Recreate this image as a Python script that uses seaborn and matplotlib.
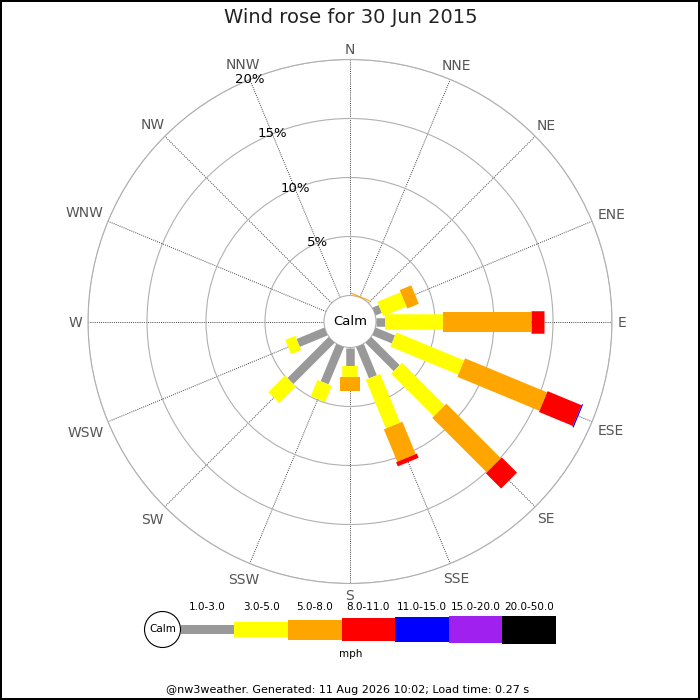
import numpy as np
import matplotlib
matplotlib.use("Agg")
import matplotlib.pyplot as plt
import seaborn as sns
from matplotlib.patches import Circle, Rectangle

# ---------------- data ----------------
directions = ['N', 'NNE', 'NE', 'ENE', 'E', 'ESE', 'SE', 'SSE',
              'S', 'SSW', 'SW', 'WSW', 'W', 'WNW', 'NW', 'NNW']
speed_bins = ['1.0-3.0', '3.0-5.0', '5.0-8.0', '8.0-11.0',
              '11.0-15.0', '15.0-20.0', '20.0-50.0']
bin_colors = ['#999999', '#ffff00', '#ffa500', '#ff0000',
              '#0000ff', '#a020f0', '#000000']

# percentage of time per direction for each speed bin (mph)
pct_1_3   = [0, 0,    0, 0.57, 0.79, 1.78, 3.39, 2.87, 1.57, 3.42, 4.93, 2.55, 0, 0, 0, 0]
pct_3_5   = [0, 0,    0, 2.14, 4.86, 6.22, 5.11, 4.47, 0.90, 1.50, 2.00, 0.92, 0, 0, 0, 0]
pct_5_8   = [0, 0.10, 0, 1.05, 7.45, 7.53, 6.54, 2.97, 1.22, 0,    0,    0,    0, 0, 0, 0]
pct_8_11  = [0, 0,    0, 0,    1.10, 3.11, 1.82, 0.38, 0,    0,    0,    0,    0, 0, 0, 0]
pct_11_15 = [0, 0,    0, 0,    0,    0.10, 0,    0,    0,    0,    0,    0,    0, 0, 0, 0]
pct_15_20 = [0] * 16
pct_20_50 = [0] * 16
ring_values = [5, 10, 15, 20]

title = 'Wind rose for 30 Jun 2015'
footer = '@nw3weather. Generated: 11 Aug 2026 10:02; Load time: 0.27 s'

# ---------------- style ----------------
sns.set_theme(style='white')
plt.rcParams['font.family'] = ['DejaVu Sans']

series = [pct_1_3, pct_3_5, pct_5_8, pct_8_11, pct_11_15, pct_15_20, pct_20_50]
bar_px = [8.5, 15.5, 20, 22.5, 25, 27, 28]   # bar thickness in pixels

DPI = 100
fig = plt.figure(figsize=(7, 7), dpi=DPI, facecolor='white',
                 edgecolor='black', linewidth=1.5)

rmax = ring_values[-1]
px_per_unit = 11.8
hole = 26 / px_per_unit
half = (rmax + hole) * px_per_unit / 700
cy = (700 - 321.5) / 700
ax = fig.add_axes([0.5 - half, cy - half, 2 * half, 2 * half], polar=True)
ax.set_theta_zero_location('N')
ax.set_theta_direction(-1)
ax.set_ylim(0, rmax)
ax.set_rorigin(-hole)
ax.set_facecolor('white')

thetas = np.deg2rad(np.arange(len(directions)) * 360 / len(directions))
ax.set_xticks(thetas)
ax.set_xticklabels([])
ax.set_yticks(ring_values)
ax.set_yticklabels([])
ax.tick_params(length=0)
ax.xaxis.grid(True, color='#444444', linestyle=(0, (1, 1.2)), linewidth=0.7)
ax.yaxis.grid(True, color='#b0b0b0', linestyle='-', linewidth=0.8)
for name, sp in ax.spines.items():
    sp.set_color('#b0b0b0')
    sp.set_linewidth(0.8)

# stacked radial bars
cum = np.zeros(len(directions))
for vals, col, w in zip(series, bin_colors, bar_px):
    vals = np.asarray(vals, dtype=float)
    for th, c0, v in zip(thetas, cum, vals):
        if v > 0:
            ax.plot([th, th], [c0, c0 + v], color=col, linewidth=w * 72 / DPI,
                    solid_capstyle='butt', zorder=5)
    cum = cum + vals

# radial labels on NNW spoke
for v in ring_values:
    ax.text(np.deg2rad(337.5), v, f'{v}%', ha='center', va='center',
            fontsize=9.5, color='black', zorder=6)

ax.text(0, -hole, 'Calm', ha='center', va='center', fontsize=9.5,
        color='black', zorder=7)

# direction labels placed just outside the outer ring
fig.canvas.draw()
renderer = fig.canvas.get_renderer()
center = ax.transAxes.transform((0.5, 0.5))
cap_h = 9.0
for th, lab in zip(thetas, directions):
    t = ax.text(th, rmax, lab, ha='center', va='center', fontsize=10,
                color='#555555', clip_on=False)
    bb = t.get_window_extent(renderer)
    edge = ax.transData.transform((th, rmax))
    u = (edge - center) / np.linalg.norm(edge - center)
    dist = 6 + abs(u[0]) * bb.width / 2 + abs(u[1]) * cap_h / 2
    target = edge + u * dist + np.array([0, -1.5])
    t.set_position(ax.transData.inverted().transform(target))

# ---------------- overlay: title, legend, footer ----------------
lax = fig.add_axes([0, 0, 1, 1], facecolor='none')
lax.set_xlim(0, 700)
lax.set_ylim(700, 0)
lax.axis('off')

lax.text(351, 17.5, title, ha='center', va='center', fontsize=14, color='#222222')

leg_x0, seg_w, leg_y = 180.7, 53.6, 629.5
for i, (lab, col, w) in enumerate(zip(speed_bins, bin_colors, bar_px)):
    x = leg_x0 + i * seg_w
    lax.add_patch(Rectangle((x, leg_y - w / 2), seg_w, w, facecolor=col,
                            edgecolor='none'))
    lax.text(x + seg_w / 2, 607, lab, ha='center', va='center',
             fontsize=7.5, color='black')
lax.add_patch(Circle((162.5, leg_y), 18, facecolor='white', edgecolor='black',
                     linewidth=0.8, zorder=3))
lax.text(162.5, leg_y, 'Calm', ha='center', va='center', fontsize=7.5,
         color='black', zorder=4)
lax.text(351, 654, 'mph', ha='center', va='center', fontsize=7.5, color='black')
lax.text(348, 690, footer, ha='center', va='center', fontsize=8, color='black')

fig.savefig('out.png', dpi=DPI, facecolor=fig.get_facecolor(),
            edgecolor=fig.get_edgecolor())
